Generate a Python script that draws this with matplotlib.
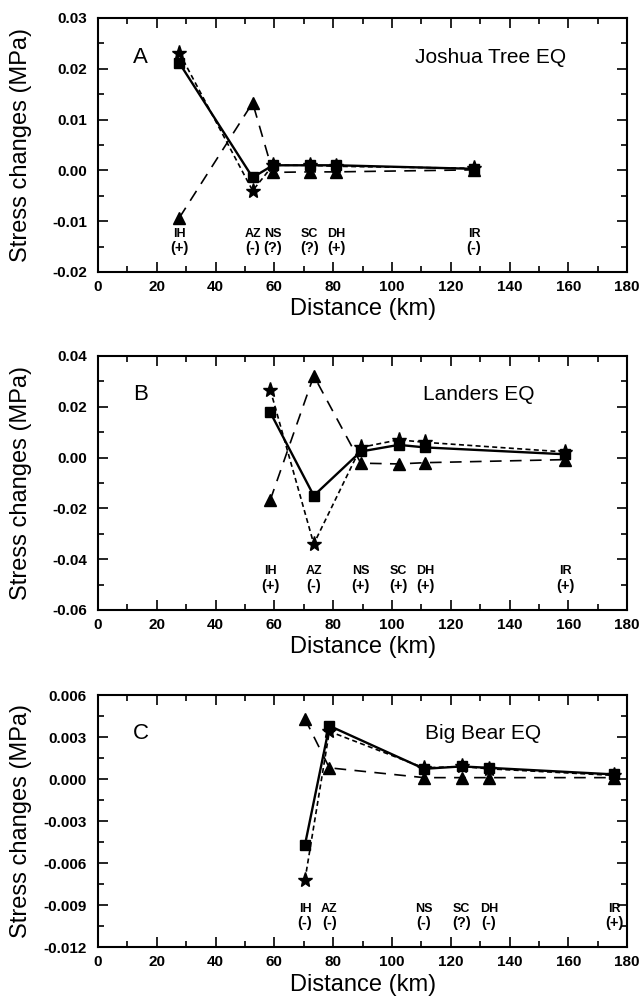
import matplotlib
matplotlib.use("Agg")
import matplotlib.pyplot as plt
from matplotlib.ticker import MultipleLocator, FormatStrFormatter

plt.rcParams['font.family'] = ['Liberation Sans', 'DejaVu Sans']

stations = ['IH', 'AZ', 'NS', 'SC', 'DH', 'IR']

# Panel A - Joshua Tree
dist_a = [27.7, 52.6, 59.5, 72.0, 81.0, 127.9]
sq_a = [0.0211, -0.0014, 0.0010, 0.0010, 0.0010, 0.0003]
star_a = [0.0231, -0.0040, 0.0010, 0.0010, 0.0008, 0.0004]
tri_a = [-0.0093, 0.0133, -0.0004, -0.0003, -0.0003, 0.0001]
sign_a = ['(+)', '(-)', '(?)', '(?)', '(+)', '(-)']

# Panel B - Landers
dist_b = [58.6, 73.4, 89.4, 102.3, 111.3, 159.0]
sq_b = [0.0178, -0.0150, 0.0024, 0.0050, 0.0040, 0.0013]
star_b = [0.0267, -0.0340, 0.0040, 0.0070, 0.0060, 0.0022]
tri_b = [-0.0167, 0.0322, -0.0022, -0.0025, -0.0020, -0.0008]
sign_b = ['(+)', '(-)', '(+)', '(+)', '(+)', '(+)']

# Panel C - Big Bear
dist_c = [70.4, 78.7, 110.9, 123.7, 133.0, 175.7]
sq_c = [-0.0047, 0.0038, 0.00073, 0.0009, 0.0008, 0.00033]
star_c = [-0.0072, 0.0034, 0.0008, 0.0009, 0.00073, 0.00026]
tri_c = [0.0043, 0.0008, 0.0001, 0.0001, 0.0001, 0.0001]
sign_c = ['(-)', '(-)', '(-)', '(?)', '(-)', '(+)']

panels = [
    dict(letter='A', title='Joshua Tree EQ', tx=133.7, x=dist_a, sq=sq_a, st=star_a, tr=tri_a,
         sg=sign_a, ylim=(-0.02, 0.03), major=0.01, fmt='%.2f', ty=0.0222,
         lab1=-0.0125, lab2=-0.0152, pos=[0.1534, 0.7275, 0.828, 0.2545]),
    dict(letter='B', title='Landers EQ', tx=129.6, x=dist_b, sq=sq_b, st=star_b, tr=tri_b,
         sg=sign_b, ylim=(-0.06, 0.04), major=0.02, fmt='%.2f', ty=0.0247,
         lab1=-0.0446, lab2=-0.0505, pos=[0.1534, 0.3888, 0.828, 0.2545]),
    dict(letter='C', title='Big Bear EQ', tx=131.0, x=dist_c, sq=sq_c, st=star_c, tr=tri_c,
         sg=sign_c, ylim=(-0.012, 0.006), major=0.003, fmt='%.3f', ty=0.00326,
         lab1=-0.00926, lab2=-0.0103, pos=[0.1534, 0.0510, 0.828, 0.2526]),
]

fig = plt.figure(figsize=(6.39, 9.98), dpi=100)

for p in panels:
    ax = fig.add_axes(p['pos'])
    ax.plot(p['x'], p['tr'], color='black', linestyle=(0, (7, 5)), linewidth=1.2,
            marker='^', markersize=8)
    ax.plot(p['x'], p['st'], color='black', linestyle=(0, (3, 2)), linewidth=1.2,
            marker='*', markersize=11)
    ax.plot(p['x'], p['sq'], color='black', linestyle='-', linewidth=1.7,
            marker='s', markersize=7)

    for xi, name, sg in zip(p['x'], stations, p['sg']):
        ax.text(xi, p['lab1'], name, ha='center', va='center', fontsize=9, fontweight='bold')
        ax.text(xi, p['lab2'], sg, ha='center', va='center', fontsize=10.5, fontweight='bold')

    ax.text(14.5, p['ty'], p['letter'], ha='center', va='center', fontsize=16)
    ax.text(p['tx'], p['ty'], p['title'], ha='center', va='center', fontsize=15)

    ax.set_xlim(0, 180)
    ax.set_ylim(*p['ylim'])
    ax.xaxis.set_major_locator(MultipleLocator(20))
    ax.xaxis.set_minor_locator(MultipleLocator(10))
    ax.yaxis.set_major_locator(MultipleLocator(p['major']))
    ax.yaxis.set_minor_locator(MultipleLocator(p['major'] / 2))
    ax.yaxis.set_major_formatter(FormatStrFormatter(p['fmt']))
    ax.tick_params(which='both', direction='in', top=True, right=True, width=1.2)
    ax.tick_params(which='major', length=7, labelsize=11)
    ax.tick_params(axis='x', which='major', pad=6)
    ax.tick_params(axis='y', which='major', pad=8)
    ax.tick_params(which='minor', length=4)
    for lbl in ax.get_xticklabels() + ax.get_yticklabels():
        lbl.set_fontweight('bold')
    for s in ax.spines.values():
        s.set_linewidth(1.5)
    ax.set_xlabel('Distance (km)', fontsize=17, labelpad=3)
    ax.set_ylabel('Stress changes (MPa)', fontsize=17)
    ax.yaxis.set_label_coords(-0.125, 0.5)

fig.savefig('out.png', dpi=100)
